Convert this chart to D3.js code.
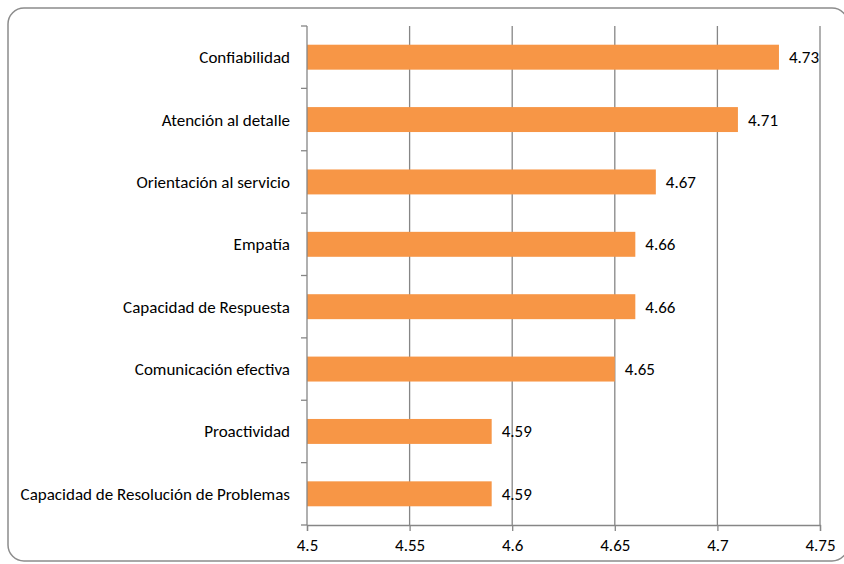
<!DOCTYPE html>
<html>
<head>
<meta charset="utf-8">
<script src="https://cdn.jsdelivr.net/npm/d3@7"></script>
<style>
  body { margin: 0; background: #fff; }
  text { font-family: Calibri, Carlito, Lato, sans-serif; fill: #000; }
</style>
</head>
<body>
<svg id="chart" width="844" height="564"></svg>
<script>
// categories from top to bottom
const categories = ["Confiabilidad", "Atención al detalle", "Orientación al servicio", "Empatía",
                    "Capacidad de Respuesta", "Comunicación efectiva", "Proactividad",
                    "Capacidad de Resolución de Problemas"];
const values = [4.73, 4.71, 4.67, 4.66, 4.66, 4.65, 4.59, 4.59];
const xTicks = [4.5, 4.55, 4.6, 4.65, 4.7, 4.75];

const svg = d3.select("#chart");
var margins = {top: 26, right: 24, bottom: 39, left: 307};
var chartWidth = svg.attr("width") - margins.left - margins.right;
var chartHeight = svg.attr("height") - margins.top - margins.bottom;
const fs = 17;

// outer frame
svg.append("rect")
    .attr("x", 8).attr("y", 8)
    .attr("width", 840).attr("height", 553)
    .attr("rx", 16)
    .attr("fill", "#fff")
    .attr("stroke", "#8c8c8c")
    .attr("stroke-width", 1.5);

var scaleX = d3.scaleLinear().domain([4.5, 4.75]).range([0, chartWidth]);
var scaleY = d3.scaleBand().domain(categories).range([0, chartHeight]).paddingInner(0.6).paddingOuter(0.3);

let chartArea = svg.append("g")
    .attr("transform", `translate(${margins.left},${margins.top})`);

// vertical gridlines
chartArea.append("g")
    .selectAll("line")
    .data(xTicks.slice(1))
    .join("line")
    .attr("x1", d => scaleX(d)).attr("x2", d => scaleX(d))
    .attr("y1", 0).attr("y2", chartHeight)
    .attr("stroke", "#868686")
    .attr("stroke-width", 1.3);

// bars
chartArea.selectAll(".bar")
    .data(values)
    .join("rect")
    .attr("class", "bar")
    .attr("x", 0)
    .attr("y", (d, i) => scaleY(categories[i]))
    .attr("width", d => scaleX(d))
    .attr("height", scaleY.bandwidth())
    .attr("fill", "#f79646");

// value labels
chartArea.selectAll(".val")
    .data(values)
    .join("text")
    .attr("class", "val")
    .attr("x", d => scaleX(d) + 10)
    .attr("y", (d, i) => scaleY(categories[i]) + scaleY.bandwidth() / 2)
    .attr("dy", "0.35em")
    .attr("font-size", fs)
    .text(d => d.toFixed(2));

// left axis: line + ticks at band boundaries
const step = chartHeight / categories.length;
chartArea.append("line")
    .attr("x1", 0).attr("x2", 0).attr("y1", 0).attr("y2", chartHeight)
    .attr("stroke", "#868686").attr("stroke-width", 1.3);
chartArea.append("g")
    .selectAll("line")
    .data(d3.range(categories.length + 1))
    .join("line")
    .attr("x1", -6).attr("x2", 0)
    .attr("y1", i => i * step).attr("y2", i => i * step)
    .attr("stroke", "#868686").attr("stroke-width", 1.3);
chartArea.append("g")
    .selectAll("text")
    .data(categories)
    .join("text")
    .attr("x", -17)
    .attr("y", d => scaleY(d) + scaleY.bandwidth() / 2)
    .attr("dy", "0.35em")
    .attr("text-anchor", "end")
    .attr("font-size", fs)
    .text(d => d);

// bottom axis
let bottomAxis = d3.axisBottom(scaleX).tickValues(xTicks).tickSize(6).tickPadding(8)
    .tickFormat(d => String(+d.toFixed(2)));
let gx = chartArea.append("g")
    .attr("transform", `translate(0,${chartHeight})`)
    .call(bottomAxis);
gx.select(".domain").attr("stroke", "#868686").attr("stroke-width", 1.3);
gx.selectAll(".tick line").attr("stroke", "#868686").attr("stroke-width", 1.3);
gx.selectAll(".tick text").attr("font-size", fs).attr("font-family", null).attr("fill", "#000");
</script>
</body>
</html>
